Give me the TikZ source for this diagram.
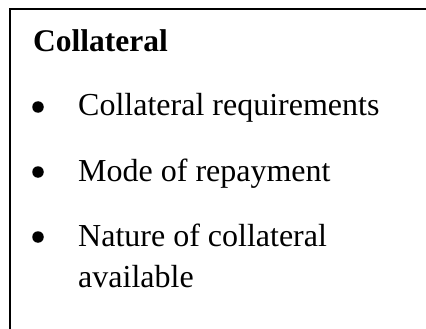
\documentclass[tikz,border=0pt]{standalone}
\usepackage{fontspec}
\setmainfont{Liberation Serif}
\begin{document}
\begin{tikzpicture}[x=1pt,y=-1pt,
  frameline/.style={line width=1.8pt,line join=miter},
  titletext/.style={anchor=base west,inner sep=0pt,font=\fontsize{31.5}{36}\selectfont\bfseries},
  itemtext/.style={anchor=base west,inner sep=0pt,font=\fontsize{32}{38}\selectfont},
  bul/.style={circle,fill=black,inner sep=0pt,minimum size=11.5pt}]
\useasboundingbox (0,0) rectangle (426,329);
\draw[frameline] (10,340) -- (10,9) -- (440,9);
\node[titletext] (title) at (33,52) {Collateral};
\node[bul] (b1) at (38,107) {};
\node[itemtext] (i1) at (78,116) {Collateral requirements};
\node[bul] (b2) at (38,172) {};
\node[itemtext] (i2) at (78,181) {Mode of repayment};
\node[bul] (b3) at (38,237) {};
\node[itemtext] (i3) at (78,246) {Nature of collateral};
\node[itemtext] (i4) at (78,287) {available};
\end{tikzpicture}
\end{document}
